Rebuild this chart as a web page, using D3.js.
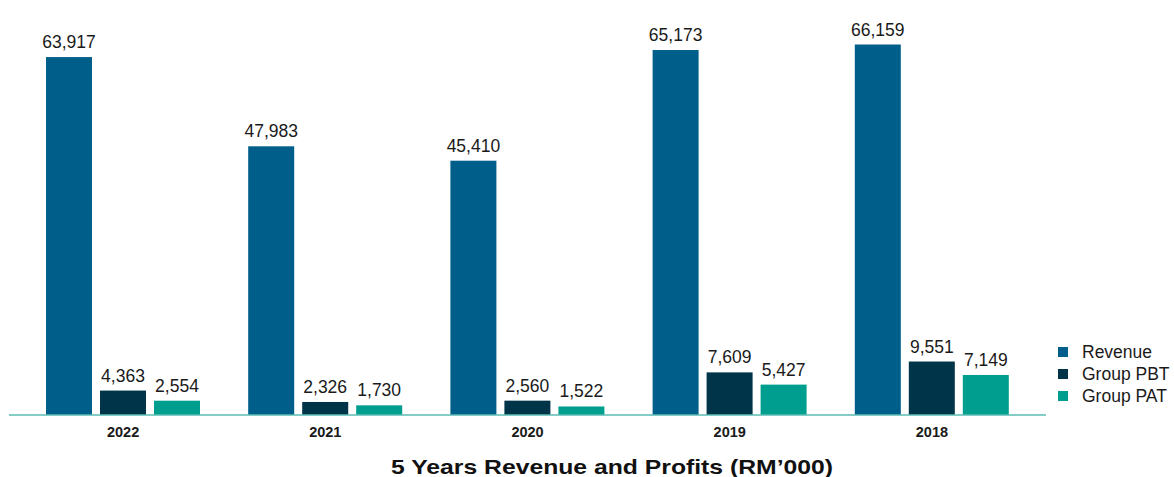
<!DOCTYPE html>
<html>
<head>
<meta charset="utf-8">
<script src="https://cdn.jsdelivr.net/npm/d3@7"></script>
<style>
  body { margin: 0; background: #ffffff; }
  text { font-family: "Liberation Sans", Arial, Helvetica, sans-serif; }
</style>
</head>
<body>
<div class="svg-container"></div>
<script>
// Data
var years = ["2022", "2021", "2020", "2019", "2018"];
var seriesNames = ["Revenue", "Group PBT", "Group PAT"];
var revenue = [63917, 47983, 45410, 65173, 66159];
var groupPBT = [4363, 2326, 2560, 7609, 9551];
var groupPAT = [2554, 1730, 1522, 5427, 7149];
var colors = ["#005e8a", "#003449", "#009e8e"];
var title = "5 Years Revenue and Profits (RM\u2019000)";

var width = 1174, height = 477;
var baseline = 415;

var data = [];
for (let i = 0; i < years.length; i++) {
    data.push({
        year: years[i],
        values: [revenue[i], groupPBT[i], groupPAT[i]]
    });
}

var svg = d3.select(".svg-container").append("svg")
    .attr("width", width)
    .attr("height", height);

// Scales
const x0 = d3.scaleBand().domain(years).range([22, 1033]);
const x1 = d3.scaleBand().domain(seriesNames).range([24, 178]).paddingInner(8 / 54);
const y = d3.scaleLinear().domain([0, 70000]).range([baseline, 23]);
const fmt = d3.format(",");

// Bars
var groups = svg.append("g")
    .selectAll("g")
    .data(data)
    .enter()
    .append("g")
    .attr("transform", function(d) { return "translate(" + x0(d.year) + ",0)"; });

groups.selectAll("rect")
    .data(function(d) { return d.values.map(function(v, j) { return {name: seriesNames[j], value: v, i: j}; }); })
    .enter()
    .append("rect")
    .attr("x", function(d) { return x1(d.name); })
    .attr("y", function(d) { return y(d.value); })
    .attr("width", x1.bandwidth())
    .attr("height", function(d) { return baseline - y(d.value); })
    .attr("fill", function(d) { return colors[d.i]; });

// Value labels
groups.selectAll("text.val")
    .data(function(d) { return d.values.map(function(v, j) { return {name: seriesNames[j], value: v}; }); })
    .enter()
    .append("text")
    .attr("class", "val")
    .attr("x", function(d) { return x1(d.name) + x1.bandwidth() / 2; })
    .attr("y", function(d) { return y(d.value) - 9; })
    .attr("text-anchor", "middle")
    .style("font-size", "17.5px")
    .style("fill", "#1a1a1a")
    .text(function(d) { return fmt(d.value); });

// Axis
const xAxis = d3.axisBottom(x0).tickSize(0).tickPadding(10);
var axisG = svg.append("g")
    .attr("transform", "translate(0," + baseline + ")")
    .call(xAxis);
axisG.select(".domain").remove();
axisG.append("line")
    .attr("x1", 9).attr("x2", 1046)
    .attr("y1", 0).attr("y2", 0)
    .attr("stroke", "#5bbdb5")
    .attr("stroke-width", 1.5);
axisG.selectAll(".tick text")
    .attr("y", 22)
    .attr("dy", null)
    .style("font-family", "\"Liberation Sans\", Arial, sans-serif")
    .style("font-size", "14.5px")
    .style("font-weight", "bold")
    .style("fill", "#1a1a1a");

// Legend
var legend = svg.append("g")
    .attr("transform", "translate(1058,352)");
var items = legend.selectAll("g")
    .data(seriesNames)
    .enter()
    .append("g")
    .attr("transform", function(d, i) { return "translate(0," + (i * 22) + ")"; });
items.append("rect")
    .attr("x", 0).attr("y", -5)
    .attr("width", 10).attr("height", 10)
    .attr("fill", function(d, i) { return colors[i]; });
items.append("text")
    .attr("x", 24).attr("y", 6)
    .style("font-size", "17.5px")
    .style("fill", "#1a1a1a")
    .text(function(d) { return d; });

// Title
svg.append("text")
    .attr("x", 391)
    .attr("y", 474)
    .attr("textLength", 442)
    .attr("lengthAdjust", "spacingAndGlyphs")
    .style("font-size", "21px")
    .style("font-weight", "bold")
    .style("fill", "#111")
    .text(title);
</script>
</body>
</html>
